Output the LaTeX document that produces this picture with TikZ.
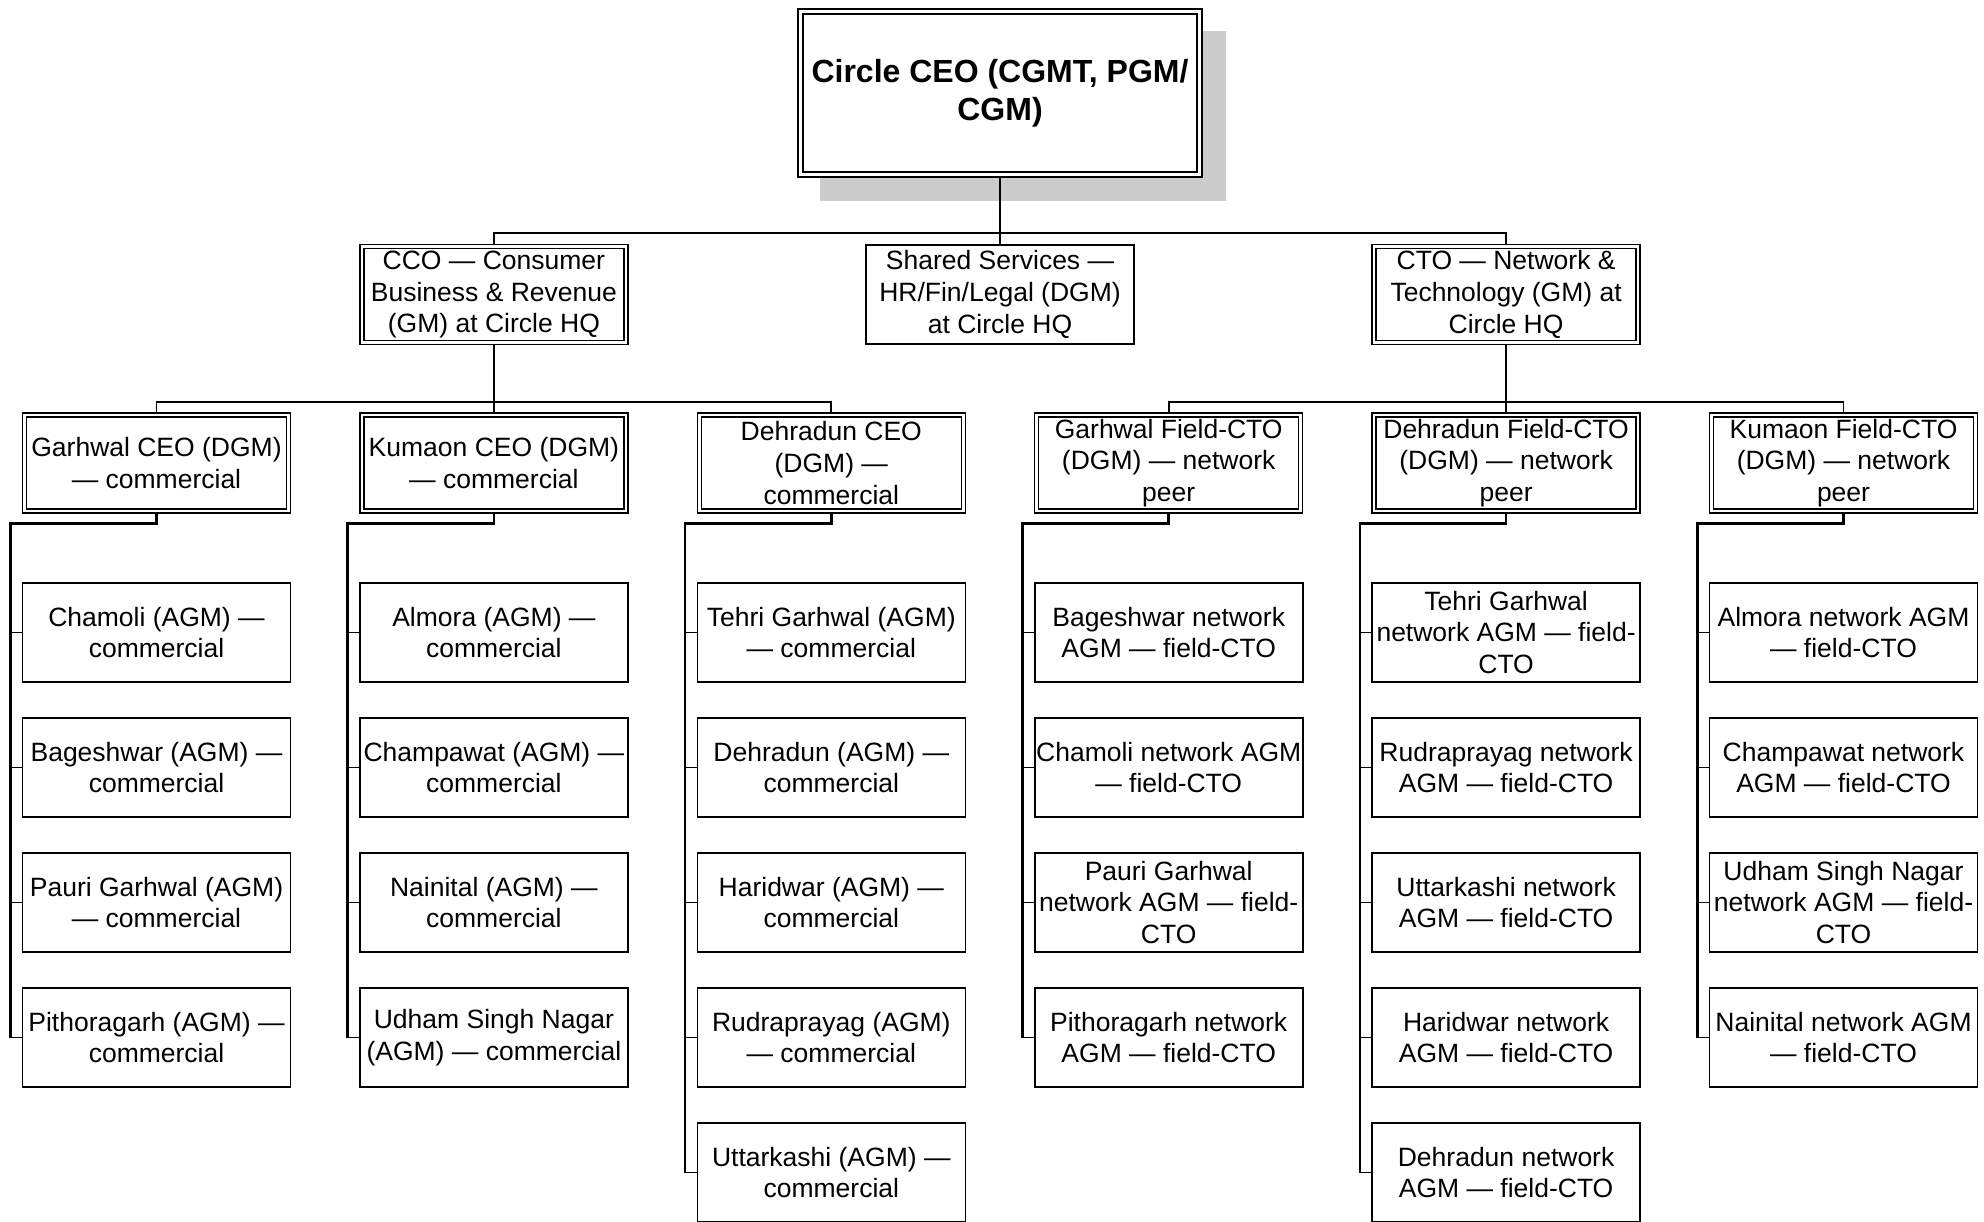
\documentclass[tikz,border=0pt]{standalone}
\usepackage{fontspec}
\setmainfont{Liberation Sans}
\usetikzlibrary{positioning,backgrounds}
\newcommand{\boxfont}{\fontsize{26.5}{31.6}\selectfont}
\newcommand{\linkto}[1]{\draw[stub] ([xshift=-11.5]#1.west) -- (#1.west);}

\begin{document}
\begin{tikzpicture}[x=1pt,y=1pt,
  base/.style={fill=white,align=center,inner sep=0pt,font=\boxfont},
  unit/.style={base,draw,line width=1.6pt,minimum width=268,minimum height=99.5},
  lead/.style={base,draw,double,line width=1.4pt,double distance=2.6pt,minimum width=264,minimum height=96},
  chief/.style={base,draw,double,line width=1.8pt,double distance=3.5pt,minimum width=399,minimum height=163,
    font=\bfseries\fontsize{32}{38}\selectfont},
  bus/.style={line width=1.8pt},
  spine/.style={line width=2.6pt},
  stub/.style={line width=1.2pt},
  node distance=33.9]
\useasboundingbox (0,0) rectangle (1984,-1222);

% top
\node[chief] (ceo) at (1000,-93) {Circle CEO (CGMT, PGM/\\CGM)};

% circle HQ
\node[lead] (cco) at (493.9,-294.5) {CCO — Consumer\\Business \& Revenue\\(GM) at Circle HQ};
\node[unit] (shared) at (1000,-294.5) {Shared Services —\\HR/Fin/Legal (DGM)\\at Circle HQ};
\node[lead] (cto) at (1506.1,-294.5) {CTO — Network \&\\Technology (GM) at\\Circle HQ};

% zones
\node[lead] (garhwal) at (156.5,-463) {Garhwal CEO (DGM)\\— commercial};
\node[lead] (kumaon) at (493.9,-463) {Kumaon CEO (DGM)\\— commercial};
\node[lead] (dehradun) at (831.3,-463) {Dehradun CEO\\(DGM) —\\commercial};
\node[lead] (fgarhwal) at (1168.7,-463) {Garhwal Field-CTO\\(DGM) — network\\peer};
\node[lead] (fdehradun) at (1506.1,-463) {Dehradun Field-CTO\\(DGM) — network\\peer};
\node[lead] (fkumaon) at (1843.5,-463) {Kumaon Field-CTO\\(DGM) — network\\peer};

% Garhwal commercial
\node[unit] (gw1) at (156.5,-632.5) {Chamoli (AGM) —\\commercial};
\node[unit,below=of gw1] (gw2) {Bageshwar (AGM) —\\commercial};
\node[unit,below=of gw2] (gw3) {Pauri Garhwal (AGM)\\— commercial};
\node[unit,below=of gw3] (gw4) {Pithoragarh (AGM) —\\commercial};

% Kumaon commercial
\node[unit] (km1) at (493.9,-632.5) {Almora (AGM) —\\commercial};
\node[unit,below=of km1] (km2) {Champawat (AGM) —\\commercial};
\node[unit,below=of km2] (km3) {Nainital (AGM) —\\commercial};
\node[unit,below=of km3] (km4) {Udham Singh Nagar\\(AGM) — commercial};

% Dehradun commercial
\node[unit] (dd1) at (831.3,-632.5) {Tehri Garhwal (AGM)\\— commercial};
\node[unit,below=of dd1] (dd2) {Dehradun (AGM) —\\commercial};
\node[unit,below=of dd2] (dd3) {Haridwar (AGM) —\\commercial};
\node[unit,below=of dd3] (dd4) {Rudraprayag (AGM)\\— commercial};
\node[unit,below=of dd4] (dd5) {Uttarkashi (AGM) —\\commercial};

% Garhwal network
\node[unit] (ng1) at (1168.7,-632.5) {Bageshwar network\\AGM — field-CTO};
\node[unit,below=of ng1] (ng2) {Chamoli network AGM\\— field-CTO};
\node[unit,below=of ng2] (ng3) {Pauri Garhwal\\network AGM — field-\\CTO};
\node[unit,below=of ng3] (ng4) {Pithoragarh network\\AGM — field-CTO};

% Dehradun network
\node[unit] (nd1) at (1506.1,-632.5) {Tehri Garhwal\\network AGM — field-\\CTO};
\node[unit,below=of nd1] (nd2) {Rudraprayag network\\AGM — field-CTO};
\node[unit,below=of nd2] (nd3) {Uttarkashi network\\AGM — field-CTO};
\node[unit,below=of nd3] (nd4) {Haridwar network\\AGM — field-CTO};
\node[unit,below=of nd4] (nd5) {Dehradun network\\AGM — field-CTO};

% Kumaon network
\node[unit] (nk1) at (1843.5,-632.5) {Almora network AGM\\— field-CTO};
\node[unit,below=of nk1] (nk2) {Champawat network\\AGM — field-CTO};
\node[unit,below=of nk2] (nk3) {Udham Singh Nagar\\network AGM — field-\\CTO};
\node[unit,below=of nk3] (nk4) {Nainital network AGM\\— field-CTO};

\begin{scope}[on background layer]
\fill[black!20] ([shift={(20.4,-25.6)}]ceo.south west) rectangle ([shift={(25.6,-20.4)}]ceo.north east);
\coordinate (hq) at (1000,-233);
\draw[bus] (ceo.south) -- (hq) -| (cco.north);
\draw[bus] (hq) -| (cto.north);
\draw[bus] (hq) -- (shared.north);
\coordinate (sales) at (493.9,-402);
\draw[bus] (cco.south) -- (sales) -| (garhwal.north);
\draw[bus] (sales) -| (dehradun.north);
\draw[bus] (sales) -- (kumaon.north);
\coordinate (net) at (1506.1,-402);
\draw[bus] (cto.south) -- (net) -| (fgarhwal.north);
\draw[bus] (net) -| (fkumaon.north);
\draw[bus] (net) -- (fdehradun.north);

\draw[spine] (garhwal.south) -- ++(0,-12) -| ([xshift=-11.5]gw4.west);
\draw[spine] (kumaon.south) -- ++(0,-12) -| ([xshift=-11.5]km4.west);
\draw[spine] (dehradun.south) -- ++(0,-12) -| ([xshift=-11.5]dd5.west);
\draw[spine] (fgarhwal.south) -- ++(0,-12) -| ([xshift=-11.5]ng4.west);
\draw[spine] (fdehradun.south) -- ++(0,-12) -| ([xshift=-11.5]nd5.west);
\draw[spine] (fkumaon.south) -- ++(0,-12) -| ([xshift=-11.5]nk4.west);
\end{scope}

\linkto{gw1} \linkto{gw2} \linkto{gw3} \linkto{gw4}
\linkto{km1} \linkto{km2} \linkto{km3} \linkto{km4}
\linkto{dd1} \linkto{dd2} \linkto{dd3} \linkto{dd4} \linkto{dd5}
\linkto{ng1} \linkto{ng2} \linkto{ng3} \linkto{ng4}
\linkto{nd1} \linkto{nd2} \linkto{nd3} \linkto{nd4} \linkto{nd5}
\linkto{nk1} \linkto{nk2} \linkto{nk3} \linkto{nk4}
\end{tikzpicture}
\end{document}
